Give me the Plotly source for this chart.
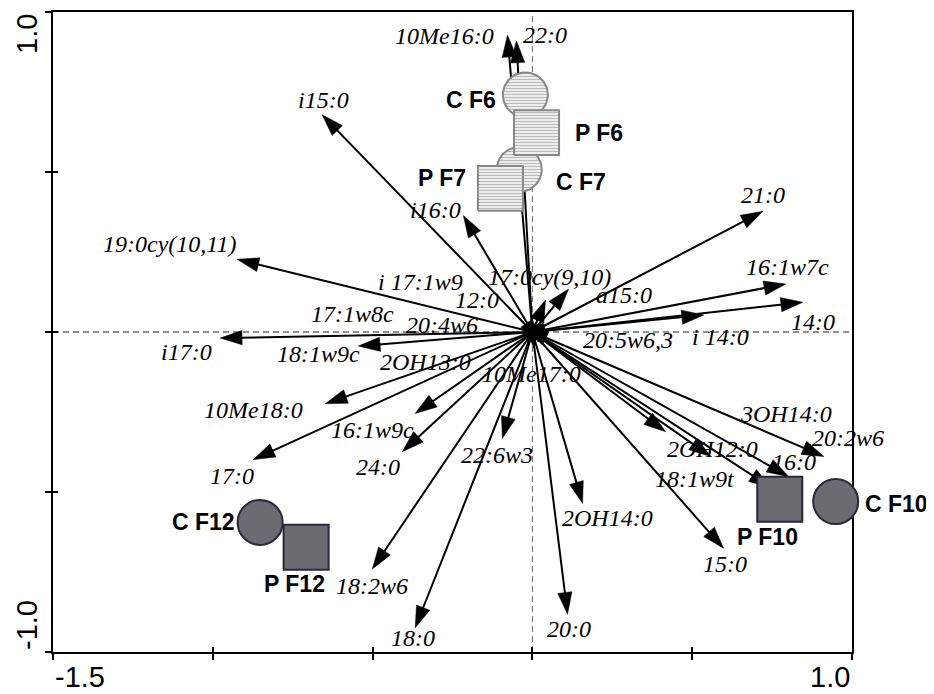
import numpy as np
import plotly.graph_objects as go

# ---------------- data ----------------
fatty_acids = ["10Me16:0", "22:0", "i15:0", "i16:0", "19:0cy(10,11)", "i17:0",
               "18:1w9c", "10Me18:0", "17:0", "16:1w9c", "24:0", "22:6w3",
               "18:2w6", "18:0", "20:0", "2OH14:0", "15:0", "18:1w9t",
               "2OH12:0", "16:0", "3OH14:0", "20:2w6", "21:0", "16:1w7c",
               "14:0", "i 14:0", "17:0cy(9,10)", "a15:0", "12:0", "i 17:1w9",
               "17:1w8c", "20:4w6", "2OH13:0", "10Me17:0", "20:5w6,3"]
fa_axis1 = [-0.078, -0.050, -0.658, -0.216, -0.924, -0.977,
            -0.545, -0.648, -0.874, -0.367, -0.407, -0.094,
            -0.501, -0.367, 0.110, 0.157, 0.598, 0.558,
            0.417, 0.802, 0.746, 0.912, 0.721, 0.793,
            0.846, 0.536, 0.113, 0.041, -0.020, -0.025,
            -0.030, -0.030, -0.015, 0.005, 0.020]
fa_axis2 = [0.928, 0.910, 0.679, 0.364, 0.227, -0.019,
            -0.044, -0.224, -0.399, -0.255, -0.374, -0.333,
            -0.741, -0.925, -0.882, -0.536, -0.676, -0.389,
            -0.312, -0.452, -0.486, -0.389, 0.377, 0.150,
            0.093, 0.053, 0.134, 0.100, 0.010, 0.010,
            0.000, -0.005, -0.040, -0.050, -0.030]

samples = ["C F6", "P F6", "C F7", "P F7", "C F10", "P F10", "C F12", "P F12"]
sample_axis1 = [-0.022, 0.013, -0.041, -0.100, 0.949, 0.774, -0.852, -0.708]
sample_axis2 = [0.741, 0.623, 0.508, 0.449, -0.530, -0.523, -0.595, -0.673]

x_tick_values = [-1.5, -1.0, -0.5, 0.0, 0.5, 1.0]
y_tick_values = [-1.0, -0.5, 0.0, 0.5, 1.0]
x_tick_labels = ["-1.5", "1.0"]
y_tick_labels = ["-1.0", "1.0"]

# ---------------- layout / style ----------------
PAGE_OFFSET = 8          # default body margin of the html page
W, H = 934 - PAGE_OFFSET, 694 - PAGE_OFFSET
ML, MR, MT, MB = 53 - PAGE_OFFSET, 82, 10 - PAGE_OFFSET, 42
XR = [-1.5, 1.0]
YR = [-1.0, 1.0]
PX_X = (W - ML - MR) / (XR[1] - XR[0])
PX_Y = (H - MT - MB) / (YR[1] - YR[0])

# label offsets in pixels (dx right, dy down) relative to arrow tip
fa_label_offsets = [(-63, 1), (29, -6), (1, -15), (-28, -6), (-67, -15), (-34, 14),
                    (-40, 8), (-72, 6), (-21, 16), (-43, 16), (-24, 15), (-5, 16),
                    (0, 17), (-2, 10), (1, 15), (25, 14), (1, 16), (-16, 23),
                    (47, 17), (5, -15), (15, -74), (24, -18), (0, -16), (2, -17),
                    (10, 20), (17, 22), (-19, -12), (78, -5), (-49, -29), (-104, -47),
                    (-170, -18), (-81, -9), (-102, 17), (-3, 26), (89, -2)]
sample_shapes = ["circle", "square", "circle", "square", "circle", "square", "circle", "square"]
sample_hatched = [True, True, True, True, False, False, False, False]
sample_label_offsets = [(-54, 5), (62, 0), (62, 13), (-58, -10), (61, 2), (-12, 38), (-57, 0), (-12, 37)]
SYM_PX = 45

fig = go.Figure()

# arrows
for name, x, y in zip(fatty_acids, fa_axis1, fa_axis2):
    fig.add_trace(go.Scatter(
        x=[0, x], y=[0, y], mode="lines+markers",
        line=dict(color="black", width=2),
        marker=dict(symbol="arrow", angleref="previous", size=[0, 23],
                    color="#000000", opacity=1, line=dict(width=0.5, color="#000000")),
        hoverinfo="skip", showlegend=False, cliponaxis=False))

# sample symbols: circles first, then squares
order = [i for i in range(len(samples)) if sample_shapes[i] == "circle"] + \
        [i for i in range(len(samples)) if sample_shapes[i] == "square"]
for i in order:
    cx, cy = sample_axis1[i], sample_axis2[i]
    if sample_hatched[i]:
        rx, ry = SYM_PX / 2 / PX_X, SYM_PX / 2 / PX_Y
        if sample_shapes[i] == "circle":
            t = np.linspace(0, 2 * np.pi, 73)
            xs, ys = cx + rx * np.cos(t), cy + ry * np.sin(t)
        else:
            xs = [cx - rx, cx + rx, cx + rx, cx - rx, cx - rx]
            ys = [cy - ry, cy - ry, cy + ry, cy + ry, cy - ry]
        fig.add_trace(go.Scatter(
            x=xs, y=ys, mode="lines", fill="toself",
            line=dict(color="#888888", width=2),
            fillcolor="#f7f7f7",
            fillpattern=dict(shape="-", fgcolor="#808080", bgcolor="#f7f7f7",
                             size=3, solidity=0.45),
            hoverinfo="skip", showlegend=False))
    else:
        fig.add_trace(go.Scatter(
            x=[cx], y=[cy], mode="markers",
            marker=dict(symbol=sample_shapes[i], size=SYM_PX, color="#6c6b71",
                        line=dict(color="#262a36", width=2)),
            hoverinfo="skip", showlegend=False, cliponaxis=False))

# invisible trace for inner-tick axes
fig.add_trace(go.Scatter(x=[], y=[], xaxis="x2", yaxis="y2", showlegend=False))

ann = []
for name, x, y, (dx, dy) in zip(fatty_acids, fa_axis1, fa_axis2, fa_label_offsets):
    ann.append(dict(x=x, y=y, xref="x", yref="y", text=name, showarrow=False,
                    xshift=dx, yshift=-dy, xanchor="center", yanchor="middle",
                    font=dict(family="Liberation Serif", size=24, style="italic",
                              color="black")))
for name, x, y, (dx, dy) in zip(samples, sample_axis1, sample_axis2, sample_label_offsets):
    ann.append(dict(x=x, y=y, xref="x", yref="y", text=name, showarrow=False,
                    xshift=dx, yshift=-dy, xanchor="center", yanchor="middle",
                    font=dict(family="Liberation Sans", size=23, weight="bold",
                              color="black")))

tick_font = dict(family="Liberation Sans", size=29, color="black")
ann.append(dict(x=XR[0], y=0, xref="x", yref="paper", text=x_tick_labels[0],
                showarrow=False, xanchor="left", yanchor="top", yshift=-7, font=tick_font))
ann.append(dict(x=XR[1], y=0, xref="x", yref="paper", text=x_tick_labels[1],
                showarrow=False, xanchor="right", yanchor="top", yshift=-7, font=tick_font))
ann.append(dict(x=0, y=YR[0], xref="paper", yref="y", text=y_tick_labels[0],
                showarrow=False, xanchor="center", yanchor="bottom", textangle=-90,
                xshift=-26, font=tick_font))
ann.append(dict(x=0, y=YR[1], xref="paper", yref="y", text=y_tick_labels[1],
                showarrow=False, xanchor="center", yanchor="top", textangle=-90,
                xshift=-26, font=tick_font))

shapes = [
    dict(type="line", xref="x", yref="paper", x0=0, x1=0, y0=0, y1=1,
         line=dict(color="#666666", width=1, dash="6px,4px"), layer="below"),
    dict(type="line", xref="paper", yref="y", x0=0, x1=1, y0=0, y1=0,
         line=dict(color="#222222", width=1, dash="6px,4px"), layer="below"),
]

axis_common = dict(showgrid=False, zeroline=False, showticklabels=False)
fig.update_layout(
    width=W, height=H,
    margin=dict(l=ML, r=MR, t=MT, b=MB, pad=0),
    plot_bgcolor="white", paper_bgcolor="white",
    xaxis=dict(range=XR, tickvals=x_tick_values, ticks="outside", ticklen=6,
               tickwidth=1.5, tickcolor="black", showline=True, mirror=True,
               linecolor="black", linewidth=2, layer="below traces", **axis_common),
    yaxis=dict(range=YR, tickvals=y_tick_values, ticks="outside", ticklen=6,
               tickwidth=1.5, tickcolor="black", showline=True, mirror=True,
               linecolor="black", linewidth=2, layer="below traces", **axis_common),
    xaxis2=dict(range=XR, tickvals=x_tick_values, ticks="inside", ticklen=5,
                tickwidth=1.5, tickcolor="black", showline=False, overlaying="x",
                anchor="y2", side="bottom", **axis_common),
    yaxis2=dict(range=YR, tickvals=y_tick_values, ticks="inside", ticklen=5,
                tickwidth=1.5, tickcolor="black", showline=False, overlaying="y",
                anchor="x2", side="left", **axis_common),
    annotations=ann, shapes=shapes, showlegend=False,
)

fig.write_html("out.html")
